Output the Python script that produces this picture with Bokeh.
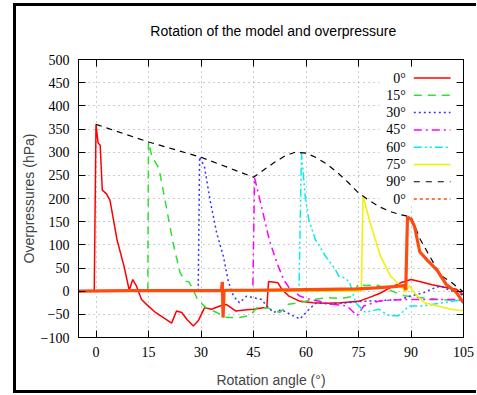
from bokeh.plotting import figure
from bokeh.models import LinearAxis, Range1d, FixedTicker, Spacer
from bokeh.layouts import row, column
from bokeh.embed import file_html
from bokeh.resources import INLINE
from bokeh.core.properties import value

# ---------------- data ----------------
title_text = "Rotation of the model and overpressure"
x_ticks = [0, 15, 30, 45, 60, 75, 90, 105]
y_ticks = [-100, -50, 0, 50, 100, 150, 200, 250, 300, 350, 400, 450, 500]

x_0 = [-5, -0.5, 0, 0.6, 1.2, 1.8, 3, 4, 6, 8, 9.5, 10.5, 11.5, 13, 14.5, 17, 20, 21.6, 23, 24.5, 26,
       27.8, 29.2, 31, 33, 35.4, 37.3, 40, 43, 45, 47.8, 48.8, 49.3, 52, 53, 55, 58, 62, 66, 70, 75,
       78, 81, 84, 87, 90, 93, 96, 100, 103, 105]
y_0 = [0, 0, 360, 320, 315, 218, 210, 196, 111, 54, 2, 25, 12, -18, -29, -46, -61, -69, -43, -46, -61,
       -75, -64, -36, -39, -32, -29, -43, -40, -39, -36, -36, 21, 18, 5, -10, -21, -25, -26, -25, -22,
       -14, -5, 7, 18, 25, 20, 14, 8, 4, -8]

x_15 = [-5, 14.8, 15, 16, 18, 20, 22, 24, 25.5, 26.5, 27.5, 29, 31.5, 34.5, 37.5, 41, 44, 46, 49, 52.5,
        55, 58, 62, 66, 70, 73, 75, 77, 80, 84, 88, 93, 98, 105]
y_15 = [0, 0, 322, 290, 265, 185, 105, 40, 22, 20, 8, -18, -36, -46, -57, -57, -52, -36, -36, -46,
        -28, -25, -18, -14, -16, -12, 16, 12, 14, 2, -10, -14, -18, -20]

x_30 = [-5, 29.2, 29.6, 31, 32.6, 34.5, 36.4, 37.8, 39.3, 41, 43, 45, 47.3, 48.8, 50.7, 53, 56, 58.3,
        61, 63, 67, 72, 76, 80, 84, 87, 90, 93.5, 96, 98.5, 101, 103.5, 105]
y_30 = [0, 0, 290, 268, 196, 125, 75, 21, -11, -25, -11, -14, -18, -32, -46, -40, -52, -60,
        -38, -25, -28, -25, -22, -21, -19, -18, -10, -4, 5, 11, 2, -4, -10]

x_45 = [-5, 44.8, 45.3, 47.3, 49.5, 51.7, 53.6, 55.5, 58.4, 61.2, 64, 67, 71.7, 74.6, 76.5, 81, 88,
        93, 99, 105]
y_45 = [0, 0, 245, 182, 111, 61, 25, 4, -11, -18, -22, -28, -32, -53, -32, -21, -18, -18, -18, -18]

x_60 = [-5, 58, 58.7, 59.8, 60.8, 62.7, 65.6, 68.4, 69.4, 71.3, 72.5, 74.2, 77, 80.8, 83.7, 86.5,
        89.4, 93.2, 99, 105]
y_60 = [0, 0, 298, 203, 154, 111, 75, 47, 32, 28, 18, -25, -46, -39, -53, -53, -32, -32, -25, -18]

x_75 = [-5, 75.8, 76.3, 78.4, 81.3, 84.2, 87, 88.5, 89.5, 91, 93.8, 97.6, 101.4, 105]
y_75 = [0, 0, 205, 146, 75, 32, 11, -2, 12, -4, -25, -32, -39, -42]

x_90 = [0, 15, 30, 45, 48, 51, 54, 57, 60, 63, 66, 69, 72, 75, 78, 81, 84, 87, 90, 92.7, 95.6, 98.5,
        101.4, 104.7, 105]
y_90 = [360, 322, 289, 246, 262, 278, 292, 300, 298, 288, 274, 256, 235, 212, 196, 182, 172, 165,
        160, 111, 72, 34, 20, 0, -2]

x_0b = [-5, 10, 20, 30, 35.8, 36.1, 36.3, 36.6, 37, 45, 55, 65, 75, 80, 85, 88, 88.5, 89, 90, 91,
        92.5, 94.5, 97.5, 100, 103, 105]
y_0b = [0, 1, 1, 1, 1, 20, -57, 0, 2, 2, 3, 4, 5, 7, 10, 12, 3, 160, 155, 140,
        85, 68, 45, 15, -3, -25]

labels = ["0°", "15°", "30°", "45°", "60°", "75°", "90°", "0°"]

# ---------------- styles ----------------
NARROW = "Liberation Sans Narrow"
SANS = "Liberation Sans"
series = [
    (x_0, y_0, "#ff0000", 1.5, "solid", "solid"),
    (x_15, y_15, "#33dd33", 1.5, "8 6", "8 6"),
    (x_30, y_30, "#3333ff", 1.5, "2 3", "2 3"),
    (x_45, y_45, "#ff00ff", 1.5, "8 4 2 4", "8 4 2 4"),
    (x_60, y_60, "#00eeee", 1.5, "8 3 2 3 2 3", "8 3 2 3 2 3"),
    (x_75, y_75, "#f0f000", 1.5, "solid", "solid"),
    (x_90, y_90, "#000000", 1.2, "6 5", "6 6"),
    (x_0b, y_0b, "#ff4a10", 3.2, "solid", "3 3"),
]

W, T, H = 460, 45, 339

# ---- title strip (its own small canvas, frame filling it) ----
pt = figure(width=W, height=T, x_range=Range1d(0, 1), y_range=Range1d(0, 1),
            x_axis_type=None, y_axis_type=None, output_backend="svg", toolbar_location=None,
            min_border_left=0, min_border_right=0, min_border_top=0, min_border_bottom=0)
pt.outline_line_color = None
pt.text(x=[0.506], y=[0.45], text=[title_text], text_align="center", text_baseline="middle",
        text_font=value(SANS), text_font_size="14px", text_color="black")

# ---- main plot ----
p = figure(width=W, height=H, x_range=Range1d(-5, 105), y_range=Range1d(-100, 500),
           output_backend="svg", toolbar_location=None,
           min_border_left=62, min_border_right=13, min_border_top=8, min_border_bottom=52)

p.outline_line_color = "black"
p.outline_line_width = 1

xt = FixedTicker(ticks=x_ticks)
yt = FixedTicker(ticks=y_ticks)

p.xaxis.ticker = xt
p.yaxis.ticker = yt
p.xgrid.ticker = xt
p.ygrid.ticker = yt
for g in (p.xgrid, p.ygrid):
    g.grid_line_color = "#9a9a9a"
    g.grid_line_dash = "1 4"
    g.grid_line_width = 1

p.xaxis.axis_label = "Rotation angle (°)"
p.yaxis.axis_label = "Overpressures (hPa)"

for ax in (p.xaxis[0], p.yaxis[0]):
    ax.axis_label_text_font = SANS
    ax.axis_label_text_font_size = "14px"
    ax.axis_label_text_font_style = "normal"
    ax.major_label_text_font = NARROW
    ax.major_label_text_font_size = "14px"
    ax.major_label_text_color = "black"
    ax.major_tick_in = 7
    ax.major_tick_out = 0
    ax.minor_tick_in = 0
    ax.minor_tick_out = 0
    ax.major_label_standoff = 9
    ax.axis_line_color = "black"
    ax.major_tick_line_color = "black"
p.xaxis[0].axis_label_standoff = 12
p.yaxis[0].axis_label_standoff = 1

# mirrored tick marks on the right and top (no labels)
for loc, tk in (("right", yt), ("above", xt)):
    a = LinearAxis(ticker=tk)
    a.major_label_text_font_size = "1px"
    a.major_label_text_color = None
    a.major_label_standoff = 0
    a.major_tick_in = 7
    a.major_tick_out = 0
    a.minor_tick_in = 0
    a.minor_tick_out = 0
    a.axis_line_color = "black"
    a.major_tick_line_color = "black"
    p.add_layout(a, loc)

# key background (keeps grid out of the key area)
p.quad(left=[81.0], right=[105.0], top=[500.0], bottom=[183.0], fill_color="white",
       line_color=None)

for xs, ys, col, w, dash, _ in series:
    p.line(xs, ys, line_color=col, line_width=w, line_dash=dash)

# key: labels to the left of the samples, right aligned
leg_top, leg_step = 460.0, 37.3
lab_x, s0, s1 = 88.5, 90.8, 101.3
for i, (lab, (_, _, col, w, _, ldash)) in enumerate(zip(labels, series)):
    yy = leg_top - i * leg_step
    p.text(x=[lab_x], y=[yy], text=[lab], text_align="right", text_baseline="middle",
           text_font=value(NARROW), text_font_size="14px", text_color="black")
    p.segment(x0=[s0], y0=[yy], x1=[s1], y1=[yy], line_color=col,
              line_width=min(w, 1.5), line_dash=ldash)

# outer black frame (left, top, bottom) built from layout spacers
BLK = {"background-color": "black"}
layout = row(
    Spacer(width=13, height=1),
    column(Spacer(width=3, height=3), Spacer(width=3, height=T + H + 6, styles=BLK)),
    column(Spacer(width=W, height=3), Spacer(width=W, height=3, styles=BLK), pt, p,
           Spacer(width=W, height=3, styles=BLK)),
)

open("out.html", "w").write(file_html(layout, INLINE))
